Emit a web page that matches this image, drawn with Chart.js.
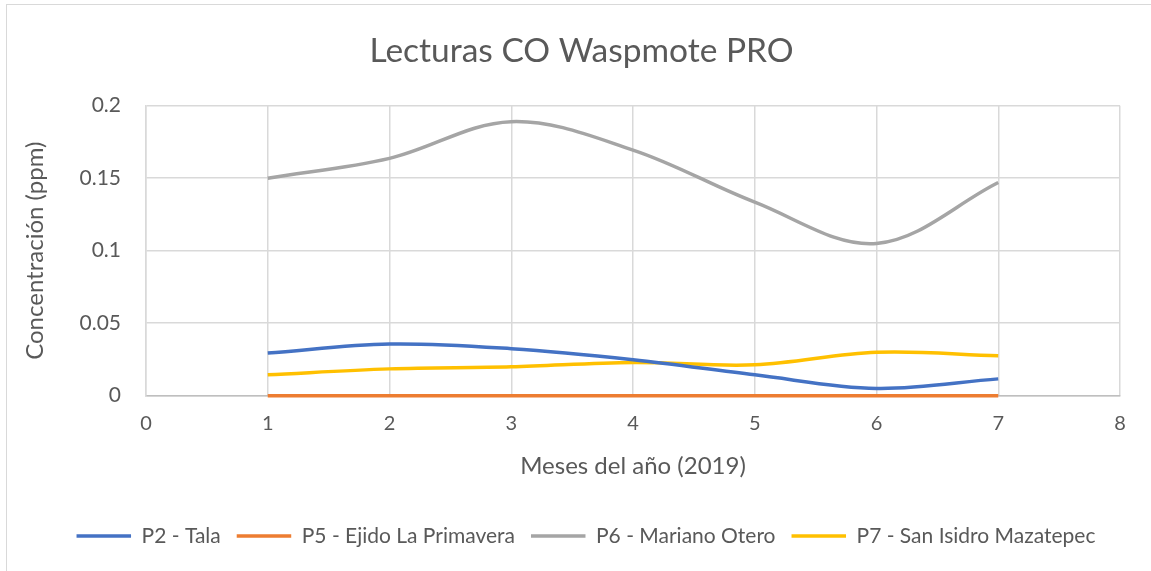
<!DOCTYPE html>
<html>
<head>
<meta charset="utf-8">
<script src="https://cdn.jsdelivr.net/npm/chart.js@4"></script>
<style>
  html, body { margin: 0; padding: 0; background: #fff; overflow: hidden; }
  #frame { position: absolute; left: 6px; top: 4px; width: 1160px; height: 620px; border: 1px solid #d9d9d9; }
  #wrap { position: absolute; left: 0; top: 0; width: 1151px; height: 571px; }
</style>
</head>
<body>
<div id="frame"></div>
<div id="wrap"><canvas id="chart" width="1151" height="571"></canvas></div>
<script>
  // Meses (eje X) y lecturas de CO (ppm) por punto de muestreo
  var months = [1, 2, 3, 4, 5, 6, 7];
  var p2Tala = [0.0294, 0.0356, 0.0324, 0.0248, 0.0144, 0.0050, 0.0116];
  var p5Primavera = [0, 0, 0, 0, 0, 0, 0];
  var p6Otero = [0.150, 0.1637, 0.189, 0.1694, 0.1335, 0.105, 0.147];
  var p7Mazatepec = [0.0144, 0.0185, 0.0199, 0.0229, 0.0213, 0.0299, 0.0276];
  var seriesNames = ['P2 - Tala', 'P5 - Ejido La Primavera', 'P6 - Mariano Otero', 'P7 - San Isidro Mazatepec'];
  var seriesColors = ['#4472c4', '#ed7d31', '#a5a5a5', '#ffc000'];
  var xTicks = [0, 1, 2, 3, 4, 5, 6, 7, 8];
  var yTicks = [0, 0.05, 0.1, 0.15, 0.2];

  var FONT = 'Lato';
  var TEXT = '#595959';

  function pts(values) {
    return months.map(function(m, i) { return { x: m, y: values[i] }; });
  }

  var datasets = [p2Tala, p5Primavera, p6Otero, p7Mazatepec].map(function(vals, i) {
    return {
      label: seriesNames[i],
      data: pts(vals),
      borderColor: seriesColors[i],
      backgroundColor: seriesColors[i],
      borderWidth: 3.5,
      pointRadius: 0,
      pointHoverRadius: 0,
      showLine: true,
      tension: 0.35,
      clip: 4,
      fill: false
    };
  });

  // title and legend are centred on the whole frame, not on the padded box
  var centreOnFrame = {
    id: 'centreOnFrame',
    afterLayout: function(chart) {
      if (chart.titleBlock) { chart.titleBlock.left += 21.5; chart.titleBlock.right += 21.5; }
      if (chart.legend) { chart.legend.left += 26; chart.legend.right += 26; }
    }
  };

  new Chart(document.getElementById('chart').getContext('2d'), {
    type: 'scatter',
    data: { datasets: datasets },
    plugins: [centreOnFrame],
    options: {
      responsive: false,
      animation: false,
      events: [],
      layout: { padding: { left: 0, right: 31, top: 0, bottom: 14.5 } },
      plugins: {
        title: {
          display: true,
          text: 'Lecturas CO Waspmote PRO',
          color: TEXT,
          font: { family: FONT, size: 33.5, weight: 'normal' },
          padding: { top: 31, bottom: 34.5 }
        },
        legend: {
          display: true,
          position: 'bottom',
          labels: {
            usePointStyle: true,
            pointStyle: 'line',
            pointStyleWidth: 54.5,
            boxHeight: 4,
            color: TEXT,
            font: { family: FONT, size: 21 },
            padding: 16
          }
        },
        tooltip: { enabled: false }
      },
      scales: {
        x: {
          type: 'linear',
          min: 0,
          max: 8,
          afterBuildTicks: function(scale) { scale.ticks = xTicks.map(function(v) { return { value: v }; }); },
          grid: { color: '#d9d9d9', lineWidth: 1.5, drawTicks: false },
          border: { color: '#bfbfbf', width: 1.5 },
          ticks: { color: TEXT, font: { family: FONT, size: 20 }, padding: 16, maxRotation: 0 },
          title: {
            display: true,
            text: 'Meses del año (2019)',
            color: TEXT,
            font: { family: FONT, size: 24 },
            padding: { top: 0, bottom: 29 }
          }
        },
        y: {
          type: 'linear',
          min: 0,
          max: 0.2,
          afterBuildTicks: function(scale) { scale.ticks = yTicks.map(function(v) { return { value: v }; }); },
          afterFit: function(scale) { scale.width = 146; },
          grid: { color: '#d9d9d9', lineWidth: 1.5, drawTicks: false },
          border: { color: '#d9d9d9', width: 1.5 },
          ticks: {
            color: TEXT,
            font: { family: FONT, size: 21 },
            padding: 25,
            callback: function(v) { return String(Math.round(v * 100) / 100); }
          },
          title: {
            display: true,
            text: 'Concentración (ppm)',
            color: TEXT,
            font: { family: FONT, size: 24 },
            padding: { top: 20.5, bottom: 0 }
          }
        }
      }
    }
  });
</script>
</body>
</html>
